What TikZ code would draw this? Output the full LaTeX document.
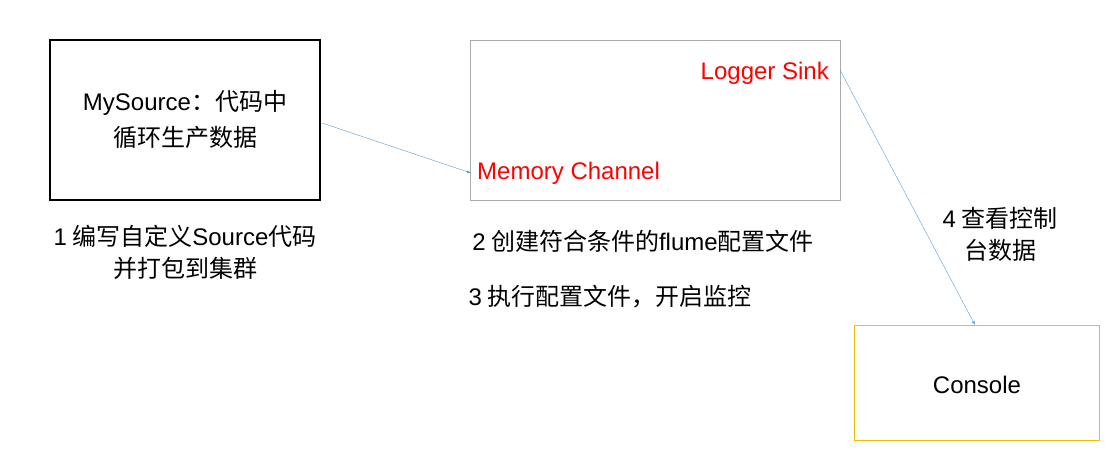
\documentclass[tikz,border=0pt]{standalone}
\usepackage{fontspec}
\setmainfont{Noto Sans CJK SC}
\newfontfamily\lat{Liberation Sans}
\begin{document}
\begin{tikzpicture}[x=1pt,y=-1pt,
  lbl/.style={font=\fontsize{24}{28}\selectfont, inner sep=0pt},
  red/.style={lbl, text={rgb,255:red,255;green,0;blue,0}},
  arr/.style={draw={rgb,255:red,91;green,155;blue,213}, -latex}]
\useasboundingbox (0,0) rectangle (1114,469);
\node[draw=black, line width=1.2pt, minimum width=270pt, minimum height=160pt] (src) at (185,120) {};
\node[draw={rgb,255:red,170;green,170;blue,170}, line width=1pt, minimum width=370pt, minimum height=160pt] (mid) at (655,120) {};
\node[draw={rgb,255:red,240;green,192;blue,0}, line width=1.2pt, minimum width=245pt, minimum height=115pt] (con) at (977,383) {};
\node[lbl] (t1) at (185,103) {{\lat MySource}：代码中};
\node[lbl] (t2) at (185,137) {循环生产数据};
\node[red, anchor=east] (ls) at (829,73) {\lat Logger Sink};
\node[red, anchor=west] (mc) at (477,173) {\lat Memory Channel};
\node[lbl] (ct) at (977,385) {\lat Console};
\node[lbl] (l1) at (185,236) {{\lat 1} 编写自定义{\lat Source}代码};
\node[lbl] (l1b) at (185,268) {并打包到集群};
\node[lbl] (l2) at (643,241) {{\lat 2} 创建符合条件的{\lat flume}配置文件};
\node[lbl] (l3) at (610,297) {{\lat 3} 执行配置文件，开启监控};
\node[lbl] (l4) at (1000,218) {{\lat 4} 查看控制};
\node[lbl] (l4b) at (1000,250) {台数据};
\coordinate (a1) at (322,123);
\coordinate (a2) at (471,173);
\coordinate (b1) at (840,70);
\coordinate (b2) at (975,325);
\draw[arr] (a1) -- (a2);
\draw[arr] (b1) -- (b2);
\end{tikzpicture}
\end{document}
